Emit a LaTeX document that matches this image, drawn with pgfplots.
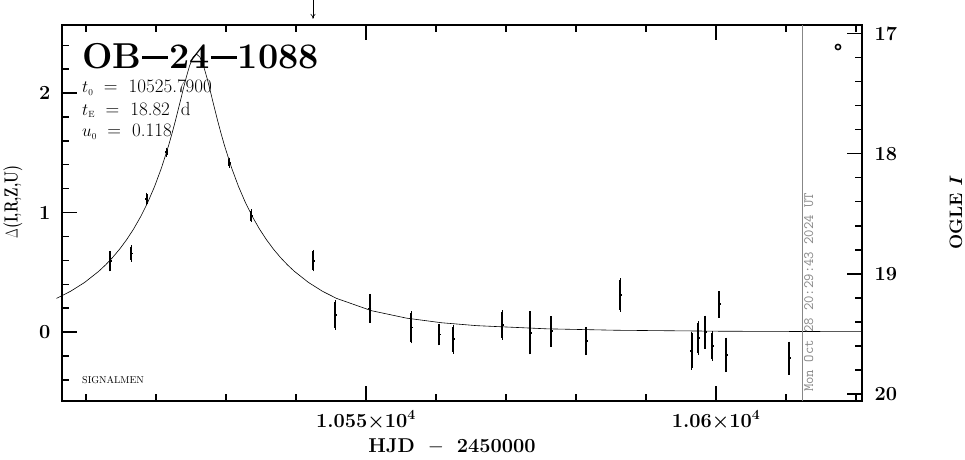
\documentclass[border=0pt]{standalone}
\usepackage{pgfplots}
\pgfplotsset{compat=1.18}
\usetikzlibrary{arrows.meta}

\definecolor{stampgray}{RGB}{135,135,135}
\newcommand\tickfont{\fontsize{20}{20}\selectfont\bfseries}
\newcommand\bigdash{\hspace{1pt}\raisebox{9pt}{\rule{26pt}{2.8pt}}\hspace{1pt}}

\begin{document}
\begin{tikzpicture}
\path[use as bounding box] (0pt,0pt) rectangle (965pt,459pt);

% OGLE I magnitude scale on the right
\begin{axis}[
  at={(62pt,58pt)}, anchor=south west,
  scale only axis, width=800pt, height=376pt,
  xmin=10506.57, xmax=10620.86,
  ymin=16.929, ymax=20.058, y dir=reverse,
  axis x line=none, axis y line*=right,
  axis line style={line width=1.6pt},
  ytick={17,18,19,20},
  minor ytick={17.2,17.4,17.6,17.8,18.2,18.4,18.6,18.8,19.2,19.4,19.6,19.8},
  major tick length=15pt, minor tick length=7pt,
  tick style={line width=1.4pt, black},
  tick label style={font=\tickfont},
  /pgf/number format/assume math mode=true,
  yticklabel style={xshift=9pt},
]
\end{axis}

\begin{axis}[
  at={(62pt,58pt)}, anchor=south west,
  scale only axis, width=800pt, height=376pt,
  xmin=10506.57, xmax=10620.86,
  ymin=-0.577, ymax=2.569,
  axis line style={line width=1.6pt},
  xtick pos=both, ytick pos=left,
  scaled x ticks=false,
  xtick={10550,10600},
  xticklabels={1.055\texttimes10\textsuperscript{4},1.06\texttimes10\textsuperscript{4}},
  minor xtick={10510,10520,10530,10540,10560,10570,10580,10590,10610,10620},
  ytick={0,1,2},
  minor ytick={-0.4,-0.2,0.2,0.4,0.6,0.8,1.2,1.4,1.6,1.8,2.2,2.4},
  major tick length=15pt, minor tick length=7pt,
  tick style={line width=1.4pt, black},
  tick label style={font=\tickfont},
  /pgf/number format/assume math mode=true,
  yticklabel style={xshift=-8pt},
  xticklabel style={yshift=-6pt},
  clip=false,
]

% point-lens model, t0 = 10525.79, tE = 18.82 d, u0 = 0.118
\addplot[black, line width=0.6pt] coordinates {
(10505.79,0.2817) (10507.79,0.3409) (10509.79,0.4146) (10511.79,0.5069)
(10512.79,0.5616) (10513.79,0.6232) (10514.79,0.6928) (10515.79,0.7716)
(10516.79,0.8612) (10517.79,0.9635) (10518.79,1.0811) (10519.79,1.2170)
(10520.79,1.3750) (10521.79,1.5590) (10522.29,1.6622) (10522.79,1.7720)
(10523.29,1.8887) (10523.79,2.0080) (10524.29,2.1244) (10524.79,2.2270)
(10525.29,2.2994) (10525.79,2.3260) (10526.29,2.2994) (10526.79,2.2270)
(10527.29,2.1244) (10527.79,2.0080) (10528.29,1.8887) (10528.79,1.7720)
(10529.29,1.6622) (10529.79,1.5590) (10530.79,1.3750) (10531.79,1.2170)
(10532.79,1.0811) (10533.79,0.9635) (10534.79,0.8612) (10535.79,0.7716)
(10536.79,0.6928) (10537.79,0.6232) (10538.79,0.5616) (10539.79,0.5069)
(10541.79,0.4146) (10543.79,0.3409) (10545.79,0.2817) (10550.79,0.1785)
(10555.79,0.1163) (10560.79,0.0778) (10565.79,0.0535) (10575.79,0.0270)
(10585.79,0.0149) (10600.79,0.0068) (10620.86,0.0030)
};

% photometry
\addplot[only marks, mark=-, mark size=1.5pt, line width=1.7pt,
  error bars/.cd, y dir=both, y explicit,
  error bar style={line width=1.7pt},
  error mark options={mark size=1.6pt, line width=1.4pt}]
table[x=t, y=d, y error=e] {
t d e
10513.43 0.594 0.072
10516.47 0.658 0.056
10518.67 1.113 0.040
10521.53 1.504 0.025
10530.47 1.417 0.030
10533.61 0.973 0.040
10542.47 0.597 0.077
10545.61 0.142 0.110
10550.57 0.198 0.107
10556.47 0.039 0.120
10560.43 -0.020 0.078
10562.47 -0.061 0.106
10569.47 0.059 0.109
10573.43 -0.006 0.167
10576.43 0.006 0.114
10581.43 -0.075 0.105
10586.33 0.310 0.125
10596.53 -0.157 0.146
10597.47 -0.050 0.125
10598.43 0.000 0.125
10599.47 -0.117 0.109
10600.43 0.232 0.097
10601.43 -0.192 0.131
10610.43 -0.218 0.125
};

% OGLE symbol
\addplot[only marks, mark=o, mark size=2.6pt, line width=1.5pt]
  coordinates {(10617.43,2.385)};

% time of plotting
\addplot[stampgray, line width=1pt] coordinates {(10612.29,-0.577) (10612.29,2.569)};

% arrow above the frame
\addplot[black, line width=0.6pt, -{To[length=5pt,width=5pt]}]
  coordinates {(10542.43,2.778) (10542.43,2.62)};
\end{axis}

% texts
\path (82pt,391pt) node[anchor=base west, inner sep=0pt]
  {\fontsize{36}{36}\selectfont\bfseries OB\bigdash24\bigdash1088};
\path (82pt,366.3pt) node[anchor=base west, inner sep=0pt]
  {\fontsize{19}{19}\selectfont $t_{\scriptscriptstyle 0}\;$ = \;10525.7900};
\path (82pt,344pt) node[anchor=base west, inner sep=0pt]
  {\fontsize{19}{19}\selectfont $t_{\scriptscriptstyle\mathrm{E}}\;$ = \;18.82 \;d};
\path (82pt,322.3pt) node[anchor=base west, inner sep=0pt]
  {\fontsize{19}{19}\selectfont $u_{\scriptscriptstyle 0}\;$ = \;0.118};
\path (82pt,76pt) node[anchor=base west, inner sep=0pt]
  {\fontsize{10}{10}\selectfont SIGNALMEN};
\path (813pt,67pt) node[anchor=base west, inner sep=0pt, rotate=90, text=stampgray]
  {\fontsize{14.3}{14.3}\selectfont\ttfamily Mon Oct 28 20:29:43 2024 UT};
\path (452pt,7pt) node[anchor=base, inner sep=0pt]
  {\fontsize{20}{20}\selectfont\bfseries HJD\hspace{13pt}$-$\hspace{13pt}2450000};
\path (13pt,257pt) node[rotate=90, inner sep=0pt]
  {\scalebox{0.72}[1]{\fontsize{19}{19}\selectfont\bfseries $\Delta$(I,R,Z,U)}};
\path (956pt,246pt) node[rotate=90, inner sep=0pt]
  {\fontsize{18}{18}\selectfont\bfseries OGLE \textit{I}};
\end{tikzpicture}
\end{document}
